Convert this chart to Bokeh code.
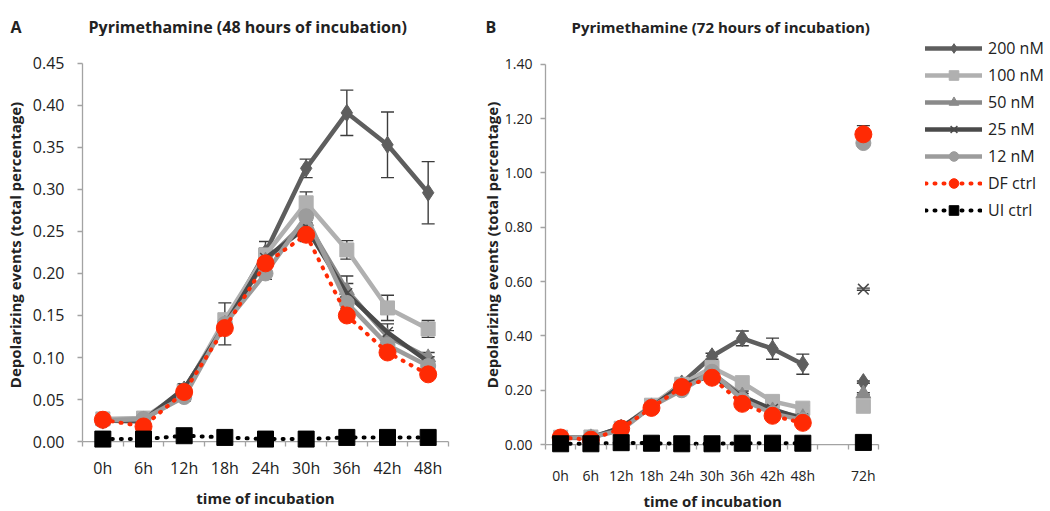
from bokeh.plotting import figure
from bokeh.models import (Range1d, FixedTicker, Whisker, ColumnDataSource, Title,
                          Legend, LegendItem, TeeHead, NumeralTickFormatter)
from bokeh.layouts import row, column
from bokeh.core.properties import value
from bokeh.embed import file_html
from bokeh.resources import INLINE

# sampling times (hours of incubation)
hours = ["0h", "6h", "12h", "18h", "24h", "30h", "36h", "42h", "48h"]
late_hour = "72h"

# depolarizing events (total percentage), mean per time point
s200 = [0.025, 0.024, 0.062, 0.140, 0.225, 0.325, 0.391, 0.353, 0.296]
s100 = [0.027, 0.028, 0.060, 0.145, 0.222, 0.284, 0.228, 0.159, 0.134]
s50 = [0.025, 0.026, 0.060, 0.140, 0.215, 0.262, 0.180, 0.125, 0.100]
s25 = [0.025, 0.025, 0.063, 0.138, 0.218, 0.255, 0.176, 0.130, 0.095]
s12 = [0.025, 0.027, 0.053, 0.140, 0.200, 0.268, 0.165, 0.115, 0.090]
df_ctrl = [0.026, 0.018, 0.059, 0.135, 0.212, 0.246, 0.150, 0.106, 0.080]
ui_ctrl = [0.003, 0.003, 0.007, 0.005, 0.003, 0.003, 0.005, 0.005, 0.005]

# standard errors
e200 = [0.004, 0.004, 0.006, 0.008, 0.013, 0.011, 0.027, 0.039, 0.037]
e100 = [0.003, 0.003, 0.005, 0.006, 0.008, 0.013, 0.011, 0.015, 0.010]
e50 = [0.003, 0.003, 0.005, 0.006, 0.007, 0.008, 0.008, 0.007, 0.006]
e25 = [0.003, 0.003, 0.006, 0.006, 0.007, 0.008, 0.021, 0.010, 0.006]
e12 = [0.003, 0.003, 0.005, 0.025, 0.007, 0.008, 0.007, 0.006, 0.005]
e_df = [0.002, 0.002, 0.004, 0.006, 0.006, 0.008, 0.006, 0.005, 0.004]
e_ui = [0.001, 0.001, 0.001, 0.001, 0.001, 0.001, 0.001, 0.001, 0.001]

# 72 h values (mean, error)
late_vals = [0.230, 0.141, 0.187, 0.572, 1.110, 1.142, 0.008]
late_errs = [0.004, 0.003, 0.004, 0.004, 0.004, 0.032, 0.001]

names = ["200 nM", "100 nM", "50 nM", "25 nM", "12 nM", "DF ctrl", "UI ctrl"]
means = [s200, s100, s50, s25, s12, df_ctrl, ui_ctrl]
errs = [e200, e100, e50, e25, e12, e_df, e_ui]

# y-axis extents and tick steps of the two panels
ymax_a, ystep_a = 0.45, 0.05
ymax_b, ystep_b = 1.40, 0.20

# drawing styles per series
styles = [
    dict(color="#5e5e5e", marker="diamond", size=17, width=4.5, dash="solid"),
    dict(color="#b0b0b0", marker="square", size=14, width=4.5, dash="solid"),
    dict(color="#8a8a8a", marker="triangle", size=15, width=4.5, dash="solid"),
    dict(color="#4a4a4a", marker="x", size=15, width=4.5, dash="solid"),
    dict(color="#9c9c9c", marker="circle", size=15, width=4.5, dash="solid"),
    dict(color="#ff2a04", marker="circle", size=17, width=4, dash="1 8"),
    dict(color="#000000", marker="square", size=16, width=4, dash="1 8"),
]

FONT = "Open Sans"
AXIS_GREY = "#a3a3a3"
ERR_GREY = "#3c3c3c"
TEXT = "#222222"
HEADER_H = 36
BOTTOM_BORDER = 54


def style_axes(p, tick_px, ticks, labels, n_slots, ymax, ystep, below_zero_px):
    # the x axis sits at the frame bottom, a little under y = 0, so that markers
    # at zero are not cut; the visible rule is drawn at y = 0 and the tick marks
    # are shifted up to meet it
    p.segment(x0=[-0.5], y0=[0], x1=[n_slots - 0.5], y1=[0], line_color=AXIS_GREY,
              line_width=1.3, level="underlay")
    xa = p.xaxis[0]
    xa.ticker = FixedTicker(ticks=ticks, minor_ticks=[i - 0.5 for i in range(n_slots + 1)])
    xa.major_label_overrides = {t: lab for t, lab in zip(ticks, labels)}
    xa.bounds = (-0.5, n_slots - 0.5)
    xa.axis_line_color = None
    xa.major_tick_out = 0
    xa.major_tick_in = 0
    xa.minor_tick_in = below_zero_px
    xa.minor_tick_out = 5 - below_zero_px
    ya = p.yaxis[0]
    ya.axis_label = "Depolarizing events (total percentage)"
    n_ticks = int(round(ymax / ystep))
    ya.ticker = FixedTicker(ticks=[round(i * ystep, 2) for i in range(n_ticks + 1)])
    ya.bounds = (0, ymax)
    ya.axis_line_color = AXIS_GREY
    ya.axis_line_width = 1.3
    ya.major_tick_out = 5
    ya.major_tick_in = 0
    ya.minor_tick_out = 0
    ya.minor_tick_in = 0
    ya.formatter = NumeralTickFormatter(format="0.00")
    for ax in (xa, ya):
        ax.major_tick_line_color = AXIS_GREY
        ax.minor_tick_line_color = AXIS_GREY
        ax.minor_tick_line_width = 1.3
        ax.major_tick_line_width = 1.3
        ax.major_label_text_font = FONT
        ax.major_label_text_font_size = tick_px
        ax.major_label_text_color = TEXT
        ax.axis_label_text_font = FONT
        ax.axis_label_text_font_style = "bold"
        ax.axis_label_text_font_size = "15px"
        ax.axis_label_text_color = TEXT
    p.xgrid.visible = False
    p.ygrid.visible = False
    p.outline_line_color = None


def draw_series(p, xs, ys, es, st, with_line=True):
    src = ColumnDataSource(dict(x=xs, y=ys,
                                lo=[y - e for y, e in zip(ys, es)],
                                hi=[y + e for y, e in zip(ys, es)]))
    wh = Whisker(base="x", lower="lo", upper="hi", source=src,
                 line_color=ERR_GREY, line_width=1.4, level="underlay",
                 upper_head=TeeHead(size=13, line_color=ERR_GREY, line_width=1.4),
                 lower_head=TeeHead(size=13, line_color=ERR_GREY, line_width=1.4))
    p.add_layout(wh)
    ln = None
    if with_line:
        ln = p.line("x", "y", source=src, line_color=st["color"], line_width=st["width"],
                    line_dash=st["dash"], line_cap="round", line_join="round")
    if st["marker"] == "x":
        mk = p.scatter("x", "y", source=src, marker="x", size=st["size"],
                       line_color=st["color"], line_width=1.5)
    else:
        mk = p.scatter("x", "y", source=src, marker=st["marker"], size=st["size"],
                       fill_color=st["color"], line_color=st["color"])
    return ln, mk


def y_range_for(ymax, px_top_gap, px_below_zero, px_value_span):
    per_px = ymax / px_value_span
    return Range1d(-px_below_zero * per_px, ymax + px_top_gap * per_px)


xs = list(range(len(hours)))

# ---- header strip with panel letters and titles ----
head = figure(width=1050, height=HEADER_H, x_range=Range1d(0, 1050),
              y_range=Range1d(HEADER_H, 0), x_axis_type=None, y_axis_type=None,
              output_backend="svg", toolbar_location=None, title=None,
              min_border=0, outline_line_color=None)
head.xgrid.visible = False
head.ygrid.visible = False
for hx, txt, fs in [(10, "A", "16px"),
                    (88, "Pyrimethamine (48 hours of incubation)", "16px"),
                    (485, "B", "16px"),
                    (571, "Pyrimethamine (72 hours of incubation)", "15px")]:
    head.text(x=[hx], y=[26], text=[txt], text_font=value(FONT),
              text_font_style="bold", text_font_size=fs, text_color=TEXT,
              text_baseline="alphabetic", text_align="left")

# ---- panel A: 48 hours ----
# 0.00 -> 0.45 spans 382 px; 27 px above the top tick, 12 px below zero
pa = figure(width=478, height=511 - HEADER_H, x_range=Range1d(-0.5, len(hours) - 0.5),
            y_range=y_range_for(ymax_a, 27, 12, 382), output_backend="svg",
            toolbar_location=None, title=None,
            min_border_left=82, min_border_right=30, min_border_top=0,
            min_border_bottom=BOTTOM_BORDER)
style_axes(pa, "16px", xs, hours, len(hours), ymax_a, ystep_a, 12)
pa.xaxis[0].axis_label = "time of incubation"
pa.xaxis[0].major_label_standoff = 3
pa.xaxis[0].axis_label_standoff = 6
pa.yaxis[0].major_label_standoff = 13
for ys, es, st in zip(means, errs, styles):
    draw_series(pa, xs, ys, es, st)

# ---- panel B: 72 hours ----
late_x = len(hours) + 1
n_slots_b = late_x + 1
slot_px = 333 / n_slots_b
pb = figure(width=572, height=511 - HEADER_H,
            x_range=Range1d(-0.5, n_slots_b - 0.5 + 172 / slot_px),
            y_range=y_range_for(ymax_b, 28, 9, 384), output_backend="svg",
            toolbar_location=None, title=None,
            min_border_left=67, min_border_right=0, min_border_top=0,
            min_border_bottom=BOTTOM_BORDER)
style_axes(pb, "14px", xs + [late_x], hours + [late_hour], n_slots_b, ymax_b, ystep_b, 9)
pb.xaxis[0].major_label_standoff = 12
pb.yaxis[0].major_label_standoff = 8
pb.yaxis[0].axis_label_standoff = 0
# x label of panel B, centred under the time axis rather than the wider frame
pb.add_layout(Title(text="time of incubation", align="left", offset=98, standoff=2,
                    text_font=FONT, text_font_style="bold", text_font_size="15px",
                    text_color=TEXT), "below")

items = []
for name, ys, es, st, lv, le in zip(names, means, errs, styles, late_vals, late_errs):
    ln, mk = draw_series(pb, xs, ys, es, st)
    draw_series(pb, [late_x], [lv], [le], st, with_line=False)
    items.append(LegendItem(label=name, renderers=[ln, mk]))

legend = Legend(items=items, location=(380, 231), padding=0, margin=0, spacing=3,
                glyph_height=24, glyph_width=57, label_height=24, label_standoff=6,
                label_text_font=FONT, label_text_font_size="16px",
                label_text_color=TEXT, background_fill_alpha=0, border_line_alpha=0)
pb.add_layout(legend)

layout = column(head, row(pa, pb))
open("out.html", "w").write(file_html(layout, INLINE))
